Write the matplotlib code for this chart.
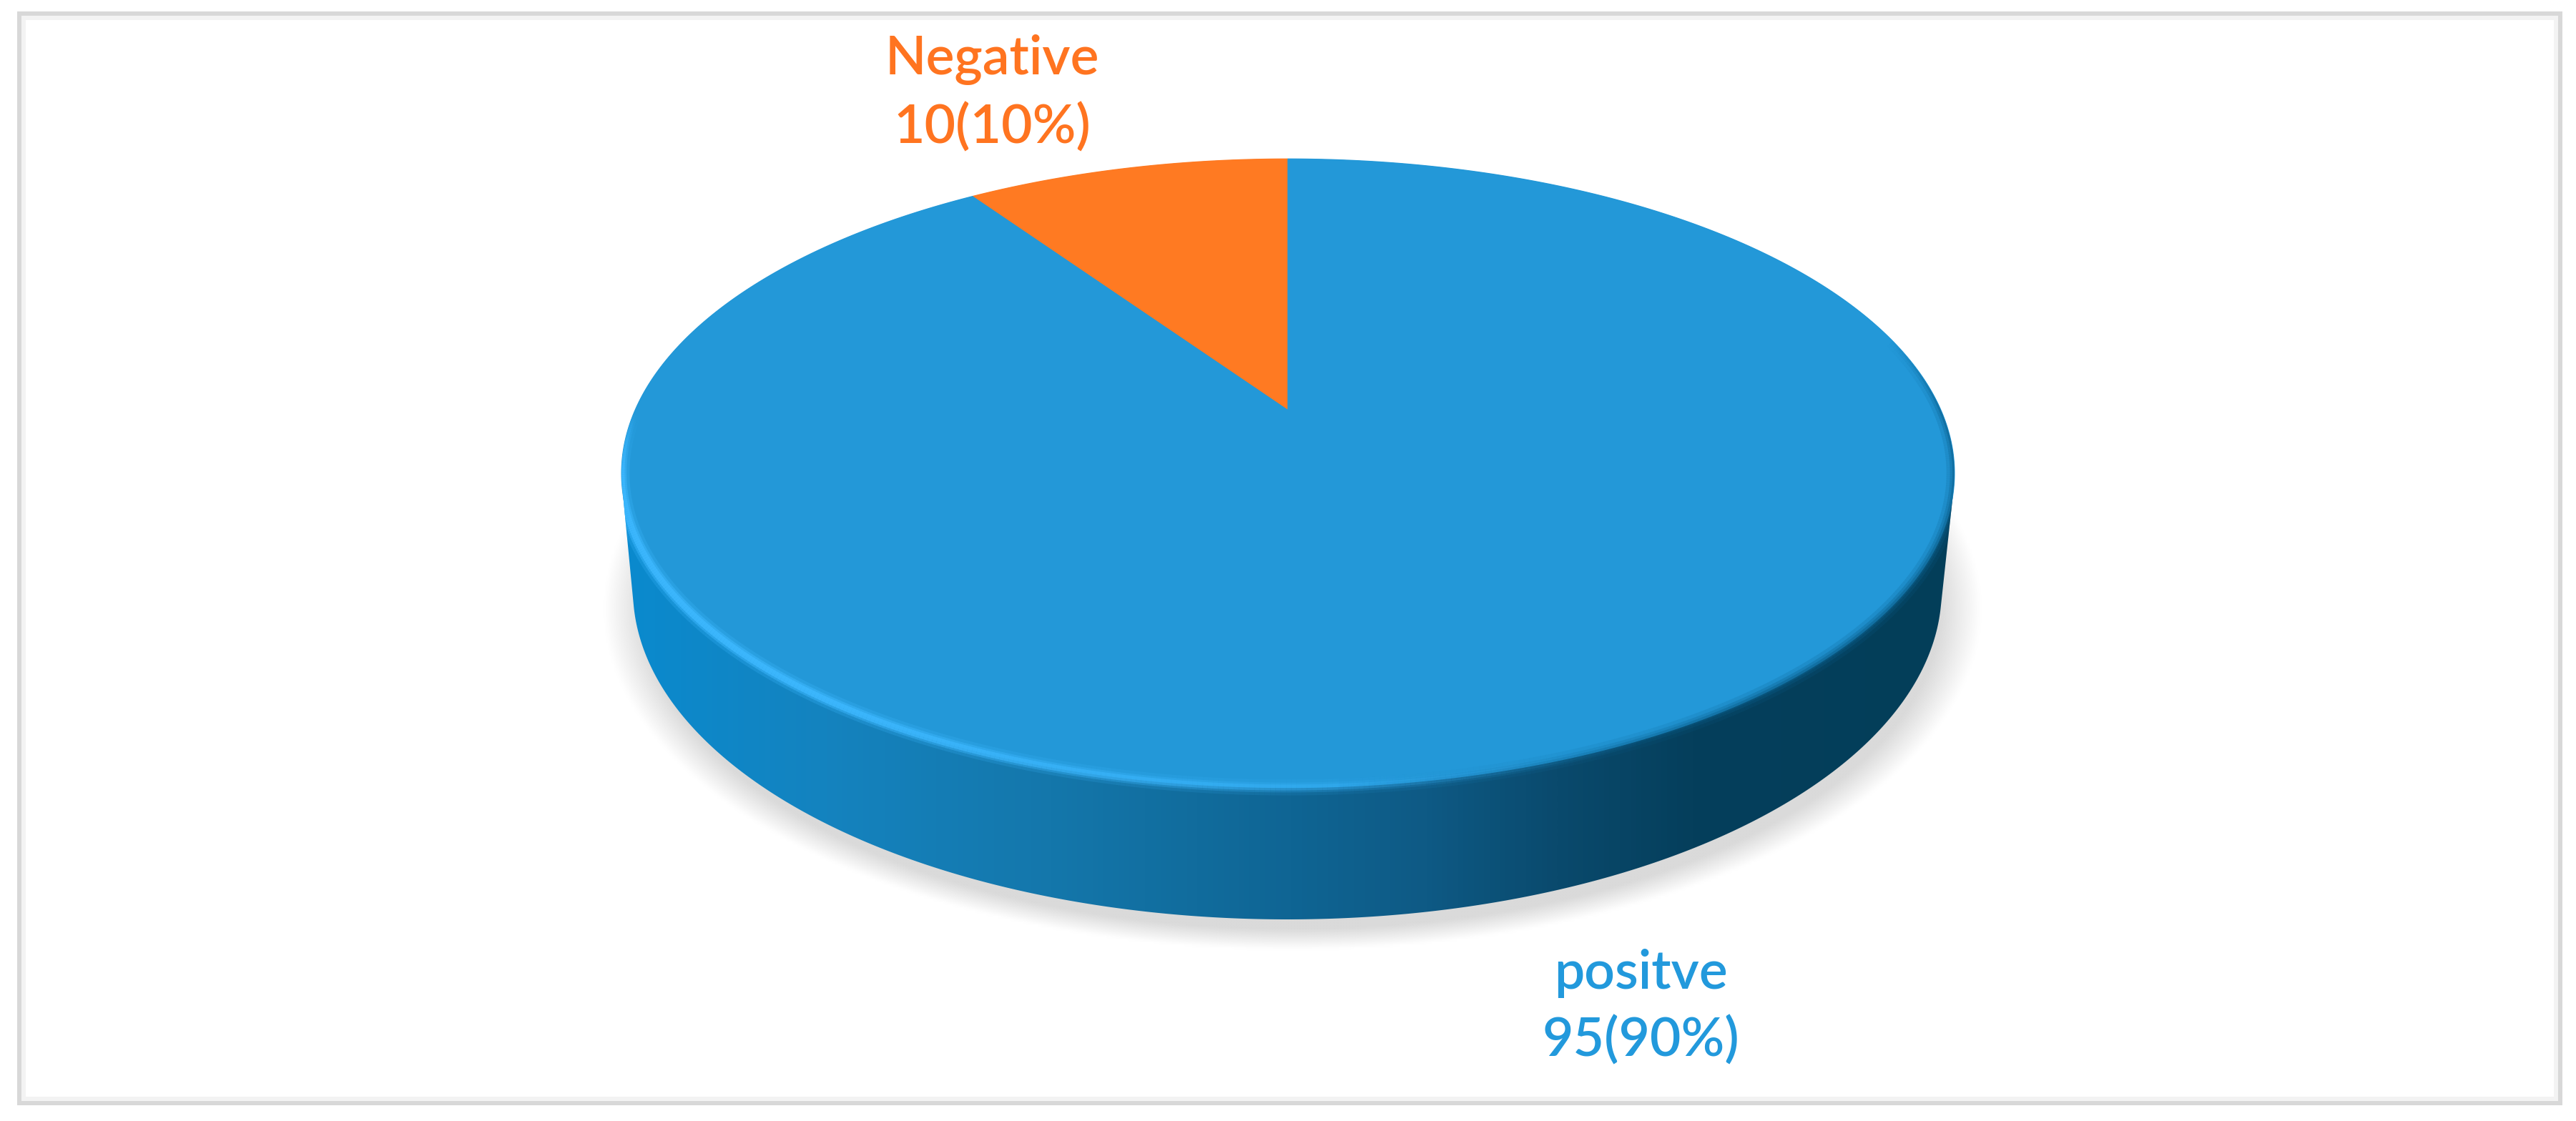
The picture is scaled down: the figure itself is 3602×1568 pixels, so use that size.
import numpy as np
import matplotlib
matplotlib.use("Agg")
import matplotlib.pyplot as plt
from matplotlib.patches import Polygon, Rectangle
from matplotlib.collections import LineCollection
from matplotlib.colors import LinearSegmentedColormap, to_rgb

plt.rcParams['font.family'] = ['Lato', 'DejaVu Sans']

categories = ["Negative", "positve"]
counts = [10, 95]
percents = [10, 90]
colors = ["#FF7A22", "#2398D8"]
text_colors = ["#FF7420", "#2299DC"]

W, H = 3602, 1568

# the top of the pie is a circle seen in perspective
CX, APEX_Y = 1801, 574
A, B, K = 913, 422, 0.2

# bottom edge of the side wall
LOW_CX, LOW_CY, LOW_A, LOW_B = 1800, 825, 915, 461


def top_point(theta):
    # theta clockwise from 12 o'clock
    sx, sy = np.sin(theta), np.cos(theta)
    d = 1 + K * sy
    return CX + A * sx / d, APEX_Y - B * sy / d


def hull(points):
    # convex hull, monotone chain
    pts = sorted(map(tuple, points))
    def half(seq):
        out = []
        for p in seq:
            while len(out) > 1 and (out[-1][0] - out[-2][0]) * (p[1] - out[-2][1]) - (out[-1][1] - out[-2][1]) * (p[0] - out[-2][0]) <= 0:
                out.pop()
            out.append(p)
        return out[:-1]
    return np.array(half(pts) + half(pts[::-1]))


def rim(theta, fade, color, widths):
    px, py = top_point(theta)
    segs = np.stack([np.column_stack([px[:-1], py[:-1]]), np.column_stack([px[1:], py[1:]])], axis=1)
    for lw, al in widths:
        rgba = np.zeros((len(segs), 4))
        rgba[:, :3] = to_rgb(color)
        rgba[:, 3] = fade[:-1] * al
        lc = LineCollection(segs, colors=rgba, linewidths=lw, zorder=4, capstyle='butt')
        ax.add_collection(lc)
        lc.set_clip_path(body)


fig = plt.figure(figsize=(W / 100, H / 100), dpi=100)
ax = fig.add_axes([0, 0, 1, 1])

# frame
ax.add_patch(Rectangle((33, 25), 3541, 1512, fill=False, ec="#F3F3F3", lw=4.3))
ax.add_patch(Rectangle((27, 18.5), 3553, 1524.5, fill=False, ec="#D8D8D8", lw=4.3))

# soft shadow under the pie
xx, yy = np.meshgrid(np.arange(700, 2900, 4), np.arange(600, 1400, 4))
dist = np.sqrt(((xx - 1805) / 962) ** 2 + ((yy - 850) / 476) ** 2)
shadow = np.zeros(dist.shape + (4,))
shadow[..., :3] = to_rgb("#DADADA")
shadow[..., 3] = np.clip((1.0 - dist) / 0.06, 0, 1)
ax.imshow(shadow, extent=(700, 2900, 1400, 600), aspect='auto', zorder=1,
          interpolation='bilinear')

# outline of the whole pie, side wall darker to the right
t = np.linspace(0, 2 * np.pi, 721)
topx, topy = top_point(t)
lowx = LOW_CX + LOW_A * np.cos(t)
lowy = LOW_CY + LOW_B * np.sin(t)
body_pts = hull(np.vstack([np.column_stack([topx, topy]), np.column_stack([lowx, lowy])]))
body = Polygon(body_pts, closed=True, fc="none", ec="none", zorder=2)
ax.add_patch(body)
wall_cmap = LinearSegmentedColormap.from_list("wall", [
    (0.00, "#0A8ACE"),
    (0.15, "#1483BF"),
    (0.32, "#1477AB"),
    (0.50, "#0F6594"),
    (0.60, "#0E5A85"),
    (0.70, "#0A4A6D"),
    (0.80, "#053F5C"),
    (1.00, "#033E59"),
])
grad = np.linspace(0, 1, 512).reshape(1, -1)
img = ax.imshow(grad, extent=(870, 2740, 1300, 200), aspect='auto', cmap=wall_cmap,
                zorder=2, interpolation='bilinear')
img.set_clip_path(body)

# top face, slices from the counts
fractions = np.array(counts) / sum(counts)
theta0 = -2 * np.pi * fractions[0]
edges = [theta0, 0, 2 * np.pi + theta0]
for i in range(len(counts)):
    th = np.linspace(edges[i], edges[i + 1], 500)
    px, py = top_point(th)
    ax.fill(np.r_[CX, px], np.r_[APEX_Y, py], fc=colors[i], ec=colors[i], lw=1, zorder=3)

# light rim on the front left, soft dark edge on the front right
th = np.linspace(-np.pi * 0.50, -np.pi * 1.15, 320)
u = np.linspace(0, 1, len(th))
fade = np.clip(u / 0.10, 0, 1) * np.clip((1 - u) / 0.55, 0, 1)
rim(th, fade, "#3DB8FF", [(16, 0.25), (10, 0.5), (6, 0.85)])

th = np.linspace(np.pi * 0.42, np.pi * 0.98, 240)
u = np.linspace(0, 1, len(th))
fade = np.clip(u / 0.15, 0, 1) * np.clip((1 - u) / 0.35, 0, 1)
rim(th, fade, "#0B5F8C", [(16, 0.18), (9, 0.3), (4, 0.45)])

# labels
label_pos = [(1387, 131), (2294, 1409)]
for i in range(len(counts)):
    ax.text(label_pos[i][0], label_pos[i][1], f"{categories[i]}\n{counts[i]}({percents[i]}%)",
            color=text_colors[i], fontsize=54, ha='center', va='center',
            linespacing=1.42, zorder=5, fontweight='semibold')

ax.set_xlim(0, W)
ax.set_ylim(H, 0)
ax.axis('off')
fig.savefig("out.png", dpi=100, facecolor="white")
